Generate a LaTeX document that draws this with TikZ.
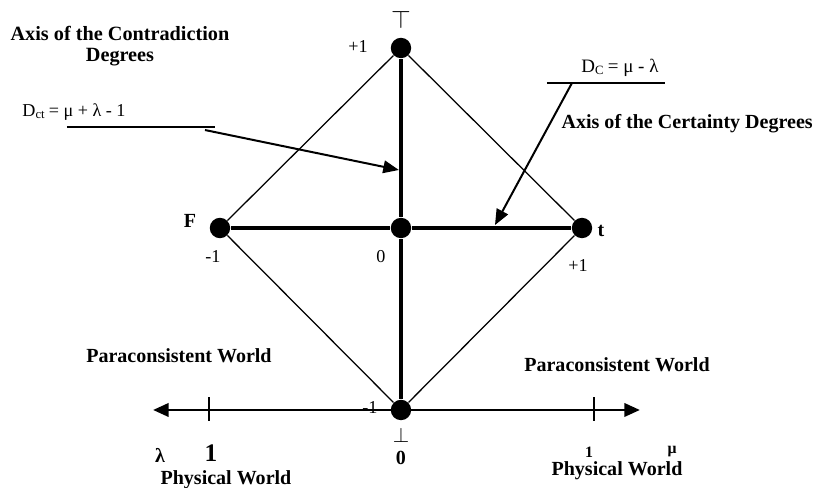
\documentclass[tikz,border=0pt]{standalone}
\usepackage{fontspec}
\setmainfont{Liberation Serif}
\usetikzlibrary{arrows.meta}
\tikzset{
    dot/.style={circle,fill,inner sep=0pt,minimum size=0.34cm},
    num/.style={font=\fontsize{8.6}{10}\selectfont,inner sep=1pt},
    bold/.style={font=\bfseries\fontsize{9.5}{10}\selectfont,inner sep=1pt,align=center},
    pointer/.style={line width=0.95pt,-{Triangle[length=2.6mm,width=2.1mm]}},
}
\begin{document}
\begin{tikzpicture}
    \useasboundingbox (-6.683,-4.333) rectangle (6.917,3.8);
    % the four corners and the middle
    \node[dot] (top) at (0,3) {};
    \node[dot] (F) at (-3.017,0) {};
    \node[dot] (t) at (3.017,0) {};
    \node[dot] (bot) at (0,-3.033) {};
    \node[dot] (mid) at (0,0) {};
    \draw[line width=0.6pt] (top)--(F)--(bot)--(t)--(top);
    \draw[line width=1.9pt] (top)--(mid)--(bot);
    \draw[line width=1.9pt] (F)--(mid)--(t);
    % values at the corners
    \node (topsym) at (0,3.467) {\fontsize{12.5}{13}\selectfont$\top$};
    \node[num] (topval) at (-0.717,3.017) {+1};
    \node[bold] (Flbl) at (-3.517,0.117) {F};
    \node[num] (Fval) at (-3.133,-0.483) {-1};
    \node[num] (midval) at (-0.333,-0.483) {0};
    \node[bold] (tlbl) at (3.333,-0.05) {t};
    \node[num] (tval) at (2.95,-0.633) {+1};
    \node[num] (botval) at (-0.517,-3.0) {-1};
    \node (botsym) at (0,-3.45) {\fontsize{10}{12}\selectfont$\bot$};
    \node[bold] (botzero) at (0,-3.833) {0};
    % the axis of the physical world
    \coordinate (lamend) at (-4.133,-3.033);
    \coordinate (muend) at (3.983,-3.033);
    \draw[line width=1.4pt,{Triangle[length=2.6mm,width=2.2mm]}-{Triangle[length=2.6mm,width=2.2mm]}] (lamend)--(muend);
    \foreach \x/\n in {-3.2/lamtick,3.217/mutick}
    {
        \coordinate (\n a) at (\x,-2.817);
        \coordinate (\n b) at (\x,-3.217);
        \draw[line width=0.5pt] (\n a)--(\n b);
    }
    \node[bold] (lam) at (-4.017,-3.783) {λ};
    \node[bold,font=\bfseries\fontsize{12}{12}\selectfont] (lamone) at (-3.167,-3.75) {1};
    \node[bold,font=\bfseries\fontsize{7.5}{8}\selectfont] (muone) at (3.133,-3.733) {1};
    \node[bold,font=\bfseries\fontsize{7.5}{8}\selectfont] (mu) at (4.517,-3.733) {μ};
    \node[bold] (physl) at (-2.917,-4.2) {Physical World};
    \node[bold] (physr) at (3.6,-4.05) {Physical World};
    \node[bold] (paral) at (-3.7,-2.133) {Paraconsistent World};
    \node[bold] (parar) at (3.6,-2.283) {Paraconsistent World};
    % axis titles and formulas
    \node[bold,font=\bfseries\fontsize{9.6}{10.2}\selectfont] (contra) at (-4.683,3.033) {Axis of the Contradiction\\Degrees};
    \node[bold] (certa) at (4.77,1.733) {Axis of the Certainty Degrees};
    \node[num,font=\fontsize{8.6}{10}\selectfont] (dct) at (-5.45,1.933) {D\textsubscript{ct}\,= μ + λ - 1};
    \coordinate (dctl) at (-5.567,1.683);
    \coordinate (dctr) at (-3.1,1.683);
    \draw[line width=0.7pt] (dctl)--(dctr);
    \coordinate (dctfoot) at (-3.267,1.633);
    \coordinate (dcttip) at (-0.035,0.967);
    \draw[pointer] (dctfoot)--(dcttip);
    \node[num,font=\fontsize{9}{10}\selectfont] (dc) at (3.65,2.667) {D\textsubscript{C}\,= μ - λ};
    \coordinate (dcl) at (2.433,2.417);
    \coordinate (dcr) at (4.4,2.417);
    \draw[line width=0.7pt] (dcl)--(dcr);
    \coordinate (dcfoot) at (2.85,2.417);
    \coordinate (dctip) at (1.567,0.05);
    \draw[pointer] (dcfoot)--(dctip);
\end{tikzpicture}
\end{document}
